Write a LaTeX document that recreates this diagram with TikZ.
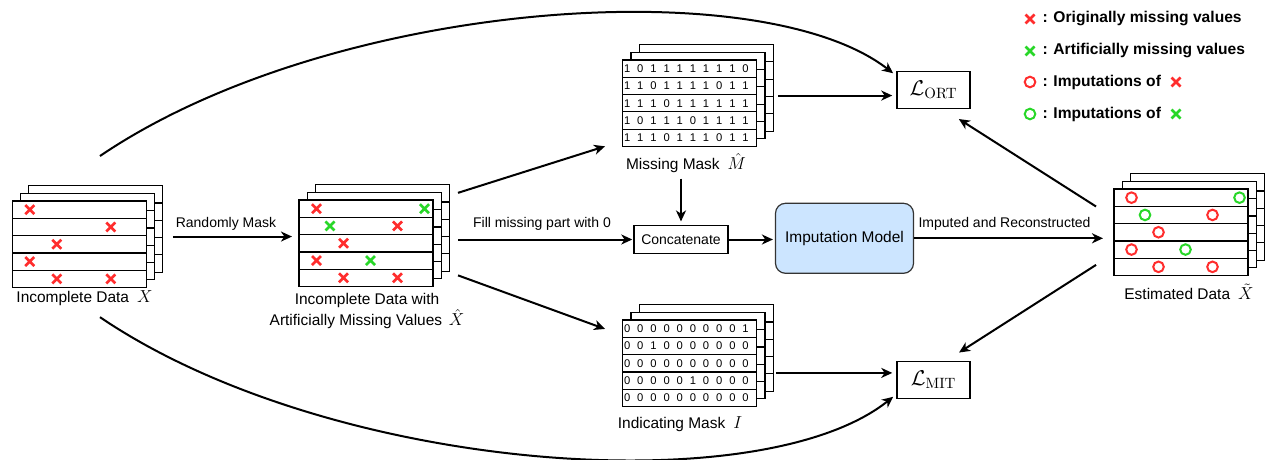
\documentclass[tikz,border=0pt]{standalone}
\usepackage{fix-cm}
\usepackage[no-math]{fontspec}
\setmainfont{Liberation Sans}
\usetikzlibrary{arrows.meta}

\definecolor{missred}{RGB}{255,45,45}
\definecolor{missgreen}{RGB}{40,215,40}
\definecolor{modelblue}{RGB}{204,229,255}

\tikzset{every picture/.style={line width=0.75pt}}

% three stacked sheets, front sheet top-left at (#1,#2)
\newcommand{\sheetstack}[2]{%
  \foreach \d in {2,1,0}{%
    \filldraw[sheet] (#1+8.2*\d,#2-7.7*\d) rectangle ++(134,86.5);
    \foreach \r in {1,...,4}
      \draw[sheet] (#1+8.2*\d,#2-7.7*\d+17.3*\r) -- ++(134,0);
  }%
}
% cross and ring marks centred at (#2,#3)
\newcommand{\xmark}[3]{\draw[xline,#1] (#2-4.5,#3-4.5) -- ++(9,9) ++(0,-9) -- ++(-9,9);}
\newcommand{\omark}[3]{\draw[oline,#1] (#2,#3) circle (5.3);}
\newcommand{\mvar}[1]{{\fontsize{13}{15}\selectfont$#1$}}

\begin{document}
\begin{tikzpicture}[x=0.75pt,y=0.75pt,yscale=-1,xscale=1,
  sheet/.style={line width=0.9pt, fill=white},
  stackbox/.style={minimum width=112.8pt, minimum height=76.4pt, inner sep=0pt, outer sep=0pt},
  xline/.style={line width=2pt},
  oline/.style={line width=1.5pt},
  digit/.style={font=\fontsize{8.4}{10}\selectfont, inner sep=0pt},
  datalabel/.style={font=\fontsize{11.6}{14.3}\selectfont, inner sep=0pt},
  flowlabel/.style={font=\fontsize{10.5}{12.6}\selectfont, inner sep=0pt},
  legend/.style={font=\fontsize{11.7}{14}\selectfont\bfseries, anchor=west, inner sep=0pt},
  plainbox/.style={draw, line width=1.1pt, inner sep=0pt, font=\fontsize{10.5}{12.6}\selectfont},
  modelbox/.style={draw=black!80, fill=modelblue, rounded corners=7.5pt, line width=0.9pt, inner sep=0pt, font=\fontsize{11.6}{14}\selectfont},
  lossbox/.style={draw, line width=1.1pt, inner sep=0pt, font=\fontsize{16}{19}\selectfont},
  arr/.style={line width=1.5pt, -{Stealth[length=8.25pt,width=7.5pt,inset=2.5pt]}}]
\useasboundingbox (0,0) rectangle (1278,460);

%Shape: Incomplete data X
\sheetstack{12.3}{201}
\node[stackbox] (X) at (87.5,236.55) {};
\foreach \k/\r in {1/0,7/1,3/2,1/3,3/4,7/4}
  {\xmark{missred}{12.3+4+13.5*\k}{201+8.65+17.3*\r}}

%Shape: Incomplete data with artificially missing values
\sheetstack{299}{200}
\node[stackbox] (Xh) at (374.2,235.55) {};
\foreach \k/\r/\c in {1/0/missred,9/0/missgreen,2/1/missgreen,7/1/missred,3/2/missred,1/3/missred,5/3/missgreen,3/4/missred,7/4/missred}
  {\xmark{\c}{299+4+13.5*\k}{200+8.65+17.3*\r}}

%Shape: Missing mask
\sheetstack{622.7}{60}
\node[stackbox] (M) at (697.9,95.55) {};
\foreach \r/\bits in {0/{1,0,1,1,1,1,1,1,1,0},1/{1,1,0,1,1,1,1,0,1,1},2/{1,1,1,0,1,1,1,1,1,1},3/{1,0,1,1,1,0,1,1,1,1},4/{1,1,1,0,1,1,1,0,1,1}}
  \foreach \b [count=\k from 0] in \bits
    \node[digit] (m\r\k) at (622.7+4.5+13.15*\k,60+8.65+17.3*\r) {\b};

%Shape: Indicating mask
\sheetstack{622.7}{320}
\node[stackbox] (I) at (697.9,355.55) {};
\foreach \r/\bits in {0/{0,0,0,0,0,0,0,0,0,1},1/{0,0,1,0,0,0,0,0,0,0},2/{0,0,0,0,0,0,0,0,0,0},3/{0,0,0,0,0,1,0,0,0,0},4/{0,0,0,0,0,0,0,0,0,0}}
  \foreach \b [count=\k from 0] in \bits
    \node[digit] (i\r\k) at (622.7+4.5+13.15*\k,320+8.65+17.3*\r) {\b};

%Shape: Estimated data
\sheetstack{1114}{189}
\node[stackbox] (Xt) at (1189.2,224.55) {};
\foreach \k/\r/\c in {1/0/missred,9/0/missgreen,2/1/missgreen,7/1/missred,3/2/missred,1/3/missred,5/3/missgreen,3/4/missred,7/4/missred}
  {\omark{\c}{1114+4+13.5*\k}{189+8.65+17.3*\r}}

% Text Node
\node[datalabel] (Xlab) at (84.5,298) {Incomplete Data\hspace{6pt}\mvar{X}};
% Text Node
\node[datalabel, align=center] (Xhlab) at (367,311) {Incomplete Data with\\Artificially Missing Values\hspace{5pt}\mvar{\hat{X}}};
% Text Node
\node[datalabel] (Mlab) at (686,163) {Missing Mask\hspace{6pt}\mvar{\hat{M}}};
% Text Node
\node[datalabel] (Ilab) at (680,424) {Indicating Mask\hspace{6pt}\mvar{I}};
% Text Node
\node[datalabel] (Xtlab) at (1189,292) {Estimated Data\hspace{6pt}\mvar{\tilde{X}}};

%Shape: Boxes
\node[plainbox, minimum width=70.5pt, minimum height=21pt] (C) at (681,239.5) {Concatenate};
\node[modelbox, minimum width=103.5pt, minimum height=52.5pt] (Imp) at (844.5,238.3) {Imputation Model};
\node[lossbox, minimum width=54.75pt, minimum height=27.5pt] (Lort) at (933.5,90) {$\mathcal{L}_{\mathrm{ORT}}$};
\node[lossbox, minimum width=54.75pt, minimum height=27.5pt] (Lmit) at (933.5,380) {$\mathcal{L}_{\mathrm{MIT}}$};

% Text Node
\node[flowlabel] (rmask) at (226,224) {Randomly Mask};
% Text Node
\node[flowlabel] (fill) at (542,224) {Fill missing part with 0};
% Text Node
\node[flowlabel] (imprec) at (1004.5,224) {Imputed and Reconstructed};

%Straight Lines
\draw[arr, shorten <=7.7pt, shorten >=5.25pt] (X.east) -- (X.east -| Xh.west);
\draw[arr, shorten <=6.75pt, shorten >=13.9pt] (Xh.28) -- (M.211);
\draw[arr, shorten <=6.5pt, shorten >=0.75pt] (Xh.east |- C.west) -- (C.west);
\draw[arr, shorten <=6.9pt, shorten >=14.1pt] (Xh.-26) -- (I.165);
\draw[arr, shorten <=4pt, shorten >=2.5pt] (C.north |- Mlab.south) -- (C.north);
\draw[arr, shorten >=1.5pt] (C.east) -- (C.east -| Imp.west);
\draw[arr, shorten >=8.25pt] (Imp.east) -- (Imp.east -| Xt.west);
\draw[arr, shorten <=3.75pt, shorten >=3pt] (M.east) -- (M.east -| Lort.west);
\draw[arr, shorten <=2.5pt, shorten >=3pt] (I.-13) -- (I.-13 -| Lmit.west);
\draw[arr, shorten <=16pt, shorten >=13.9pt] (Xt.175) -- (Lort.-63);
\draw[arr, shorten <=16pt, shorten >=11.7pt] (Xt.201) -- (Lmit.57);

%Curve Lines
\draw[arr, shorten >=3pt] ([shift={(12.5,-29.6)}]X.north) .. controls (330,0) and (760,-30) .. (Lort.159);
\draw[arr, shorten >=3pt] ([shift={(12.5,29.7)}]X.south) .. controls (330,473) and (760,503) .. (Lmit.201);

%Legend
\xmark{missred}{1030}{19}
\node[legend] (leg1) at (1042,19) {: Originally missing values};
\xmark{missgreen}{1030}{51}
\node[legend] (leg2) at (1042,51) {: Artificially missing values};
\omark{missred}{1030}{82}
\node[legend] (leg3) at (1042,82) {: Imputations of};
\xmark{missred}{1176}{82}
\omark{missgreen}{1030}{114}
\node[legend] (leg4) at (1042,114) {: Imputations of};
\xmark{missgreen}{1176}{114}

\end{tikzpicture}
\end{document}
